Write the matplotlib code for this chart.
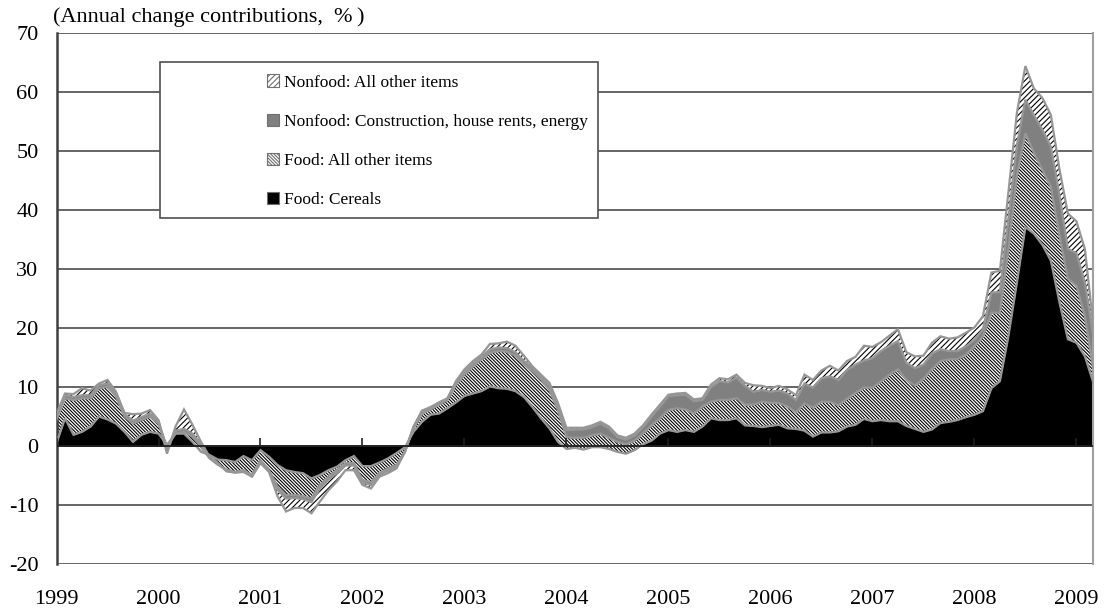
import numpy as np
import pandas as pd
import matplotlib
matplotlib.use('agg')
import matplotlib.pyplot as plt
import matplotlib.patches as mpatches

plt.rcParams['font.family'] = ['Liberation Serif', 'DejaVu Serif']
plt.rcParams['hatch.linewidth'] = 0.8
plt.rcParams['axes.unicode_minus'] = False

# monthly data, Jan 1999 - Mar 2009 (annual change contributions, %)
dates = pd.date_range('1999-01-01', periods=123, freq='MS')

cereals = [0.5, 4.7, 1.9, 2.4, 3.3, 5.0, 4.5, 3.8, 2.4, 0.7, 1.9, 2.4,
           2.1, 0.2, 2.1, 2.1, 0.7, -1.0, -1.5, -2.3, -2.4, -2.7, -1.7, -2.4,
           -0.7, -1.8, -3.2, -4.1, -4.4, -4.6, -5.5, -4.9, -4.1, -3.5, -2.4, -1.7,
           -3.4, -3.4, -2.8, -2.1, -1.2, -0.2, 2.4, 4.1, 5.3, 5.5, 6.4, 7.4,
           8.5, 8.9, 9.3, 10.1, 9.8, 9.7, 9.3, 8.3, 6.6, 4.7, 3.0, 0.7,
           -0.5, -0.3, -0.6, -0.2, -0.2, -0.5, -1.0, -1.3, -0.7, 0.3, 0.9, 2.1,
           2.7, 2.4, 2.7, 2.4, 3.3, 4.7, 4.4, 4.4, 4.7, 3.5, 3.4, 3.2,
           3.4, 3.6, 3.0, 2.9, 2.6, 1.6, 2.3, 2.3, 2.5, 3.3, 3.6, 4.6,
           4.2, 4.4, 4.2, 4.2, 3.4, 2.9, 2.4, 2.8, 3.9, 4.1, 4.4, 4.9,
           5.3, 5.9, 9.8, 11.0, 18.6, 27.7, 37.1, 36.0, 34.1, 31.4, 24.4, 18.1,
           17.5, 15.2, 10.7]

food_other = [4.0, 3.4, 5.9, 5.7, 4.8, 4.8, 5.6, 4.6, 2.6, 3.1, 2.5, 2.6,
              1.7, -0.3, 0.0, 0.3, 0.9, 0.9, -0.6, -0.9, -1.6, -1.7, -2.4, -2.5,
              -1.7, -2.3, -3.7, -4.2, -3.9, -3.9, -3.4, -1.7, -1.1, -0.6, -0.5, -1.2,
              -2.4, -2.7, -1.8, -1.7, -2.0, -0.7, 0.6, 1.4, 0.9, 1.5, 1.4, 3.0,
              3.6, 4.6, 5.4, 5.7, 6.3, 6.3, 6.0, 5.5, 6.1, 6.6, 6.5, 5.4,
              2.0, 1.7, 2.0, 2.0, 2.3, 1.9, 1.7, 1.6, 1.6, 1.8, 2.6, 2.6,
              3.4, 4.0, 3.5, 3.1, 3.4, 2.8, 3.4, 3.4, 3.4, 3.5, 3.6, 4.3,
              3.9, 3.7, 3.7, 2.8, 4.6, 4.9, 5.2, 5.2, 4.4, 4.7, 5.4, 5.3,
              5.7, 6.5, 7.9, 8.8, 7.8, 7.3, 9.0, 10.2, 10.5, 10.6, 10.3, 10.6,
              11.6, 12.7, 12.8, 11.6, 14.8, 18.2, 15.9, 13.7, 12.7, 12.5, 11.4, 10.2,
              9.7, 6.8, 2.3]

nonfood_constr = [0.5, 0.5, 0.5, 0.5, 0.5, 0.5, 0.5, 0.5, 0.4, 0.5, 0.5, 0.5,
                  0.4, -0.4, 0.5, 0.5, 0.5, 0.4, 0.2, 0.2, -0.2, -0.1, -0.2, -0.2,
                  -0.3, -0.2, -0.5, -0.6, -0.5, -0.5, -0.6, -0.6, -0.5, -0.5, -0.4, -0.4,
                  -0.4, -0.5, -0.3, -0.4, -0.3, -0.1, 0.2, 0.3, 0.3, 0.3, 0.2, 0.4,
                  0.5, 0.5, 0.5, 0.6, 0.6, 0.6, 0.6, 0.6, 0.5, 0.5, 0.7, 0.8,
                  1.2, 1.4, 1.4, 1.4, 1.7, 1.6, 0.8, 0.8, 0.9, 1.1, 1.5, 2.0,
                  2.4, 2.2, 2.5, 2.1, 1.1, 2.5, 3.2, 3.0, 3.5, 3.2, 2.2, 2.0,
                  1.9, 2.1, 2.2, 2.1, 3.4, 3.4, 4.0, 4.3, 4.3, 4.9, 4.8, 4.6,
                  5.0, 5.2, 4.9, 4.8, 2.9, 3.0, 2.4, 2.7, 2.0, 1.4, 1.4, 1.4,
                  1.1, 1.2, 3.4, 3.5, 5.1, 5.1, 5.7, 6.4, 6.8, 6.8, 6.8, 5.1,
                  5.5, 5.7, 5.6]

nonfood_other = [0.5, 0.3, 0.5, 1.2, 0.8, 0.3, 0.6, 0.3, 0.2, 1.1, 0.6, 0.6,
                 0.2, -0.8, 0.7, 3.3, 1.5, 0.4, 0.1, 0.1, -0.1, 0.0, -0.1, -0.1,
                 -0.2, -0.1, -1.1, -2.2, -1.7, -1.5, -1.9, -2.2, -1.8, -1.4, -0.8, -0.8,
                 -0.4, -0.6, -0.3, -0.4, -0.3, 0.0, 0.1, 0.2, 0.1, 0.1, 0.1, 0.2,
                 0.4, 0.4, 0.3, 0.9, 0.7, 1.1, 1.1, 0.9, 0.3, 0.3, 0.5, 0.4,
                 0.4, 0.3, 0.3, 0.3, 0.3, 0.3, 0.3, 0.3, 0.3, 0.3, 0.3, 0.3,
                 0.2, 0.3, 0.3, 0.3, 0.3, 0.4, 0.5, 0.5, 0.5, 0.5, 1.1, 0.7,
                 0.6, 0.8, 0.7, 0.8, 1.5, 1.3, 1.3, 1.8, 1.6, 1.5, 1.3, 2.5,
                 1.9, 1.5, 1.7, 2.0, 1.8, 2.0, 1.5, 1.8, 2.2, 2.1, 2.3, 2.3,
                 2.1, 2.2, 3.4, 3.6, 4.5, 5.5, 5.7, 4.5, 5.4, 5.4, 4.4, 6.0,
                 5.4, 5.7, 1.7]

years = list(range(1999, 2010))
labels = ['Food: Cereals', 'Food: All other items',
          'Nonfood: Construction, house rents, energy', 'Nonfood: All other items']

x = dates.year + (dates.month - 1) / 12.0
series = [np.array(cereals), np.array(food_other),
          np.array(nonfood_constr), np.array(nonfood_other)]
styles = [dict(facecolor='black', hatch=None),
          dict(facecolor='white', hatch='\\' * 10),
          dict(facecolor='#808080', hatch=None),
          dict(facecolor='white', hatch='/' * 6)]
edge_c = '#969696'

fig = plt.figure(figsize=(11.06, 6.15), dpi=100)
ax = fig.add_axes([0.0511, 0.0829, 0.9375, 0.8634])

base = np.zeros(len(x))
for s, st in zip(series, styles):
    top = base + s
    ax.fill_between(x, base, top, facecolor=st['facecolor'], hatch=st['hatch'],
                    edgecolor='black', linewidth=0, zorder=2)
    base = top
base = np.zeros(len(x))
for s in series:
    base = base + s
    ax.plot(x, base, color=edge_c, lw=1.6, zorder=3, solid_joinstyle='miter')

ax.set_xlim(x[0], x[-1])
ax.set_ylim(-20, 70)
ax.set_yticks(range(-20, 71, 10))
ax.set_xticks(years)
ax.set_xticklabels([str(y) for y in years])
ax.tick_params(axis='both', length=0, labelsize=16)
ax.tick_params(axis='y', pad=13)
ax.tick_params(axis='x', pad=19)
ax.grid(axis='y', color='#3c3c3c', lw=1.1, zorder=1)
ax.set_axisbelow(True)
for sp in ['top', 'bottom']:
    ax.spines[sp].set_visible(False)
ax.spines['right'].set_color('#a0a0a0')
ax.spines['right'].set_linewidth(1.5)
ax.spines['left'].set_color('#404040')
ax.spines['left'].set_linewidth(1.8)

# zero axis with year tick marks
ax.axhline(0, color='#202020', lw=1.3, zorder=4)
ax.vlines(years, 0, 1.4, color='#202020', lw=1.2, zorder=4)

# legend box
ax.add_patch(mpatches.Rectangle((2000.01, 38.6), 4.3, 26.5, facecolor='white',
                                edgecolor='#505050', lw=1.2, zorder=5))
handles = [mpatches.Patch(facecolor=st['facecolor'], hatch=st['hatch'],
                          edgecolor='#707070', lw=0.8) for st in styles]
leg = ax.legend(handles[::-1], labels[::-1], loc='upper left',
                bbox_to_anchor=(0.203, 0.922), frameon=False, fontsize=12.5,
                handlelength=0.7, handleheight=0.7, handletextpad=0.3,
                labelspacing=1.33, borderpad=0, borderaxespad=0)
leg.set_zorder(6)

fig.text(0.048, 0.972, '(Annual change contributions,\u2002%\u2009)', fontsize=16,
         ha='left', va='center')

fig.savefig('out.png', dpi=100)
